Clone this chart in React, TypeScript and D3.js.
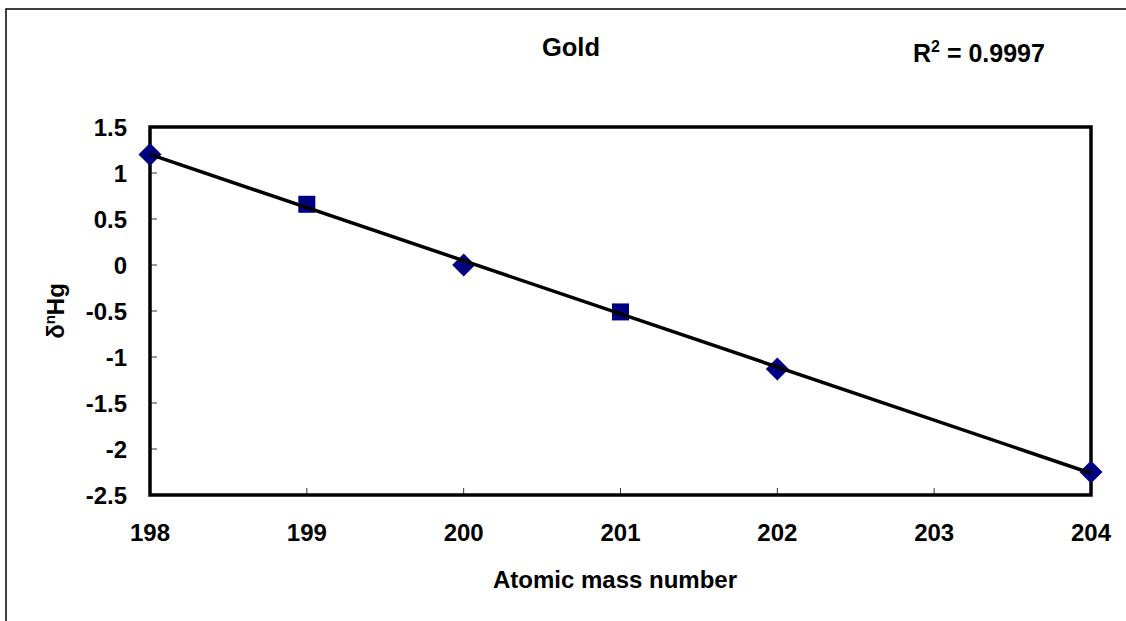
import React from "react";
import * as d3 from "d3";

// Mass numbers and δ values, split by marker style
const evenMass = [198, 200, 202, 204];
const evenDelta = [1.2, 0.0, -1.13, -2.25];
const oddMass = [199, 201];
const oddDelta = [0.66, -0.51];

const xTicks = [198, 199, 200, 201, 202, 203, 204];
const yTicks = [1.5, 1, 0.5, 0, -0.5, -1, -1.5, -2, -2.5];

const titleText = "Gold";
const xTitle = "Atomic mass number";
const r2Text = "0.9997";

const W = 1126;
const H = 621;
const plot = { left: 150, right: 1091, top: 127, bottom: 495 };
const font = "'Liberation Sans', Arial, Helvetica, sans-serif";
const navy = "#000080";

export default function App() {
  const x = d3.scaleLinear().domain([198, 204]).range([plot.left, plot.right]);
  const y = d3.scaleLinear().domain([-2.5, 1.5]).range([plot.bottom, plot.top]);

  // least-squares fit over all points
  const allX = [...evenMass, ...oddMass];
  const allY = [...evenDelta, ...oddDelta];
  const mx = d3.mean(allX) as number;
  const my = d3.mean(allY) as number;
  const sxy = d3.sum(allX.map((v, i) => (v - mx) * (allY[i] - my)));
  const sxx = d3.sum(allX.map((v) => (v - mx) * (v - mx)));
  const slope = sxy / sxx;
  const icpt = my - slope * mx;
  const [x0, x1] = d3.extent(allX) as [number, number];
  const fitLine = d3.line<number>()
    .x((d) => x(d))
    .y((d) => y(slope * d + icpt))([x0, x1]) as string;

  const diamond = 11.5;
  const sq = 8.5;

  return (
    <svg
      width={W}
      height={H}
      style={{ position: "absolute", left: 0, top: 0, background: "#fff" }}
      fontFamily={font}
    >
      <rect x={0} y={0} width={W} height={H} fill="#fff" />
      {/* chart area frame */}
      <rect x={6} y={9} width={W + 20} height={H + 20} fill="none" stroke="#000" strokeWidth={1.5} />

      <text x={571} y={56} textAnchor="middle" fontSize={25.5} fontWeight="bold">
        {titleText}
      </text>
      <text x={913} y={62} fontSize={25} fontWeight="bold">
        R<tspan dy={-10} fontSize={16}>2</tspan>
        <tspan dy={10}>{` = ${r2Text}`}</tspan>
      </text>

      {/* ticks */}
      {yTicks.map((t) => (
        <g key={"y" + t}>
          <line x1={plot.left} x2={plot.left + 7} y1={y(t)} y2={y(t)} stroke="#333" strokeWidth={1} />
          <text x={127} y={y(t) + 8.5} textAnchor="end" fontSize={24} fontWeight="bold">
            {String(t)}
          </text>
        </g>
      ))}
      {xTicks.map((t) => (
        <g key={"x" + t}>
          <line x1={x(t)} x2={x(t)} y1={plot.bottom} y2={plot.bottom - 7} stroke="#333" strokeWidth={1} />
          <text x={x(t)} y={541} textAnchor="middle" fontSize={24} fontWeight="bold">
            {String(t)}
          </text>
        </g>
      ))}

      <rect
        x={plot.left}
        y={plot.top}
        width={plot.right - plot.left}
        height={plot.bottom - plot.top}
        fill="none"
        stroke="#000"
        strokeWidth={3.5}
      />

      <text x={615} y={588} textAnchor="middle" fontSize={24} fontWeight="bold">
        {xTitle}
      </text>
      <text
        transform={`translate(64,${(plot.top + plot.bottom) / 2}) rotate(-90)`}
        textAnchor="middle"
        fontSize={24}
        fontWeight="bold"
      >
        δ<tspan dy={-9} fontSize={15}>n</tspan>
        <tspan dy={9}>Hg</tspan>
      </text>

      {/* markers */}
      {evenMass.map((m, i) => {
        const cx = x(m);
        const cy = y(evenDelta[i]);
        return (
          <path
            key={"d" + m}
            d={`M${cx},${cy - diamond}L${cx + diamond},${cy}L${cx},${cy + diamond}L${cx - diamond},${cy}Z`}
            fill={navy}
          />
        );
      })}
      {oddMass.map((m, i) => (
        <rect
          key={"s" + m}
          x={x(m) - sq}
          y={y(oddDelta[i]) - sq}
          width={sq * 2}
          height={sq * 2}
          fill={navy}
        />
      ))}

      <path d={fitLine} fill="none" stroke="#000" strokeWidth={3.5} />
    </svg>
  );
}
